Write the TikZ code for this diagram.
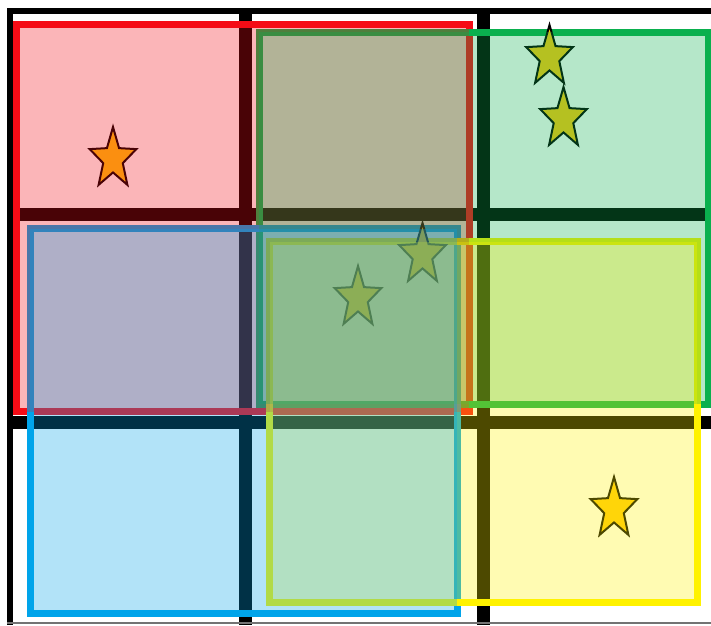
\documentclass[tikz,border=0pt]{standalone}
\definecolor{cRed}{RGB}{245,12,22}
\definecolor{cGreen}{RGB}{10,176,78}
\definecolor{cBlue}{RGB}{0,164,234}
\definecolor{cYellow}{RGB}{255,242,0}
\definecolor{cGold}{RGB}{255,201,14}
\newcommand\mystar[2]{%
  \draw[starshape] plot[samples at={0,...,9}]
    ({#1 + (isodd(\x) ? 0.42 : 1)*24.5*cos(90+36*\x)},
     {#2 - (isodd(\x) ? 0.42 : 1)*32*sin(90+36*\x)}) -- cycle;}
\begin{document}
\begin{tikzpicture}[x=1pt,y=-1pt,
  border/.style={line width=7pt},
  tint/.style={fill opacity=0.3},
  starshape/.style={fill=cGold, draw=black, line width=2pt, line join=miter}]
\useasboundingbox (0,0) rectangle (711,625);
\clip (0,0) rectangle (711,625);
\fill[white] (0,0) rectangle (711,625);
% black grid
\fill[black] (7,7.5) rectangle (711,14);
\fill[black] (7,7.5) rectangle (13,625);
\fill[black] (239,7.5) rectangle (251.5,625);
\fill[black] (477,7.5) rectangle (490,625);
\fill[black] (7,208) rectangle (711,221);
\fill[black] (7,416) rectangle (711,429);
\fill[black!55] (7,622) rectangle (711,623.5);
% borders
\draw[border, cRed] (16.5,24) rectangle (469,411.5);
\draw[border, cGreen] (259,32) rectangle (708,404);
\draw[border, cBlue] (30,228.5) rectangle (457,613.5);
\draw[border, cYellow] (269.5,241.5) rectangle (697,602.5);
% stars
\mystar{113}{159}
\mystar{549.5}{57}
\mystar{563.5}{119}
\mystar{358}{298}
\mystar{422.5}{255}
\mystar{614}{509}
% translucent fills
\fill[tint, cRed] (16.5,24) rectangle (469,411.5);
\fill[tint, cGreen] (259,32) rectangle (708,404);
\fill[tint, cYellow] (269.5,241.5) rectangle (697,602.5);
\fill[tint, cBlue] (30,228.5) rectangle (457,613.5);
\end{tikzpicture}
\end{document}
